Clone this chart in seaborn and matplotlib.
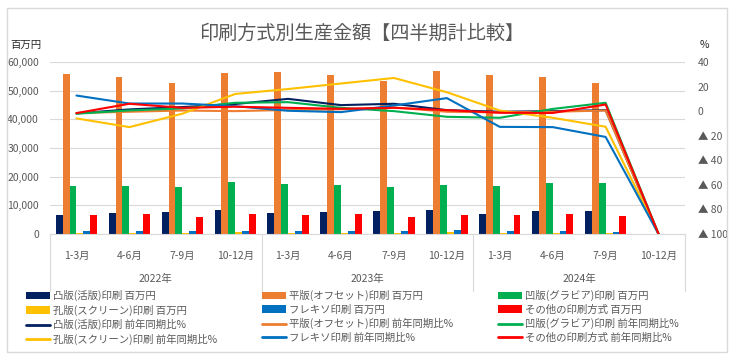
import numpy as np
import pandas as pd
import matplotlib
matplotlib.use("Agg")
import matplotlib.pyplot as plt
import matplotlib.transforms as mtransforms
from matplotlib.patches import Patch, Rectangle
from matplotlib.lines import Line2D
import seaborn as sns

years = ["2022年", "2023年", "2024年"]
quarters = ["1-3月", "4-6月", "7-9月", "10-12月"]

methods = ["凸版(活版)印刷", "平版(オフセット)印刷", "凹版(グラビア)印刷",
           "孔版(スクリーン)印刷", "フレキソ印刷", "その他の印刷方式"]
colors = ["#002060", "#ED7D31", "#00B050", "#FFC000", "#0070C0", "#FF0000"]

# 生産金額 (百万円)
letterpress = [6700, 7400, 7650, 8350, 7400, 7650, 8000, 8350, 7050, 8000, 8000, 0]
offset = [55700, 54800, 52800, 56000, 56400, 55300, 53400, 57000, 55300, 54600, 52600, 0]
gravure = [16850, 16850, 16500, 18100, 17400, 17100, 16500, 17100, 16600, 17800, 17800, 0]
screen = [500, 500, 450, 600, 500, 450, 450, 550, 450, 450, 400, 0]
flexo = [1050, 1050, 1000, 1100, 1000, 1050, 1000, 1400, 1050, 1050, 800, 0]
others = [6500, 6850, 5800, 6850, 6500, 6850, 5800, 6500, 6500, 6850, 6200, 0]

# 前年同期比 (%)
letterpress_pct = [-1.8, 1.4, 3.3, 5.8, 10.0, 4.9, 6.0, 0.8, -0.5, 0.0, 0.8, -100]
offset_pct = [-1.5, -0.5, 0.5, 0.0, 1.0, 1.5, 3.0, -0.5, -1.0, -0.5, 0.5, -100]
gravure_pct = [-2.1, 0.6, 2.2, 6.8, 7.3, 2.7, 0.0, -4.6, -5.4, 1.8, 6.8, -100]
screen_pct = [-5.9, -13.0, -2.1, 14.0, 18.0, 22.5, 27.0, 15.4, 0.5, -5.4, -12.7, -100]
flexo_pct = [12.7, 6.2, 6.2, 4.0, 0.3, -0.8, 4.6, 10.6, -12.8, -13.0, -21.0, -100]
others_pct = [-1.6, 6.0, 2.7, 3.6, 2.7, 1.9, 2.7, 0.8, -1.3, -1.5, 5.4, -100]

periods = [f"{y}{q}" for y in years for q in quarters]
n = len(periods)

bars = pd.DataFrame({
    "period": periods * len(methods),
    "method": np.repeat(methods, n),
    "value": letterpress + offset + gravure + screen + flexo + others,
})
lines = pd.DataFrame({
    "idx": list(range(n)) * len(methods),
    "method": np.repeat(methods, n),
    "pct": letterpress_pct + offset_pct + gravure_pct + screen_pct + flexo_pct + others_pct,
})

sns.set_style("white")
plt.rcParams["font.family"] = ["Noto Sans CJK JP", "DejaVu Sans"]
grey = "#595959"
light = "#D9D9D9"

fig = plt.figure(figsize=(7.33, 3.6), dpi=100)
ax = fig.add_axes([50 / 733, 1 - 234 / 360, 635 / 733, 172 / 360])

sns.barplot(data=bars, x="period", y="value", hue="method", order=periods,
            hue_order=methods, palette=colors, width=0.78, saturation=1,
            linewidth=0, ax=ax, legend=False)

ax2 = ax.twinx()
sns.lineplot(data=lines, x="idx", y="pct", hue="method", hue_order=methods,
             palette=colors, linewidth=1.5, ax=ax2, legend=False)

ax.set_xlim(-0.5, n - 0.5)
ax.set_ylim(0, 60000)
ax.set_yticks(range(0, 60001, 10000))
ax.set_yticklabels([f"{v:,}" for v in range(0, 60001, 10000)])
ax2.set_ylim(-100, 40)
ax2.set_yticks(range(-100, 41, 20))
ax2.set_yticklabels(["0" if v == 0 else (f"▲ {abs(v)}" if v < 0 else str(v))
                     for v in range(-100, 41, 20)])

ax.set_xticks(range(n))
ax.set_xticklabels(quarters * len(years))
for a in (ax, ax2):
    a.set_xlabel("")
    a.set_ylabel("")
    for s in a.spines.values():
        s.set_visible(False)
ax.spines["bottom"].set_visible(True)
ax.spines["bottom"].set_color(light)

ax.tick_params(axis="x", length=0, pad=12, labelsize=7.5, labelcolor=grey)
ax.tick_params(axis="y", length=0, pad=8, labelsize=7.5, labelcolor=grey)
ax2.tick_params(axis="y", length=0, pad=9, labelsize=7.5, labelcolor=grey)
ax.yaxis.grid(True, color=light, lw=0.8)
ax.set_axisbelow(True)

# multi-level category axis
trans = mtransforms.blended_transform_factory(ax.transData, ax.transAxes)
for xb in [-0.5, 3.5, 7.5, 11.5]:
    ax.plot([xb, xb], [0, -0.33], transform=trans, color=light, lw=0.8, clip_on=False)
for i, y in enumerate(years):
    ax.text(i * 4 + 1.5, -0.262, y, transform=trans, ha="center", va="center",
            fontsize=7.5, color=grey)

fig.text(0.493, 1 - 33 / 360, "印刷方式別生産金額【四半期計比較】", ha="center", va="center",
         fontsize=13.8, color=grey)
fig.text(10 / 733, 1 - 45 / 360, "百万円", ha="left", va="center", fontsize=7.5, color="#262626")
fig.text(700 / 733, 1 - 45 / 360, "%", ha="left", va="center", fontsize=7.5, color="#262626")

# legend: three columns
col_x = [26 / 733, 262 / 733, 498 / 733]
for c in range(3):
    idx = [c, c + 3]
    handles = [Patch(color=colors[i], lw=0) for i in idx] + \
              [Line2D([0], [0], color=colors[i], lw=2) for i in idx]
    labels = [methods[i] + " 百万円" for i in idx] + [methods[i] + " 前年同期比%" for i in idx]
    fig.legend(handles, labels, loc="upper left", bbox_to_anchor=(col_x[c], 1 - 290 / 360),
               frameon=False, fontsize=7.5, labelspacing=0.33, handlelength=2.3,
               handletextpad=0.3, borderaxespad=0, borderpad=0, labelcolor=grey)

fig.patches.append(Rectangle((7 / 733, 8 / 360), 720 / 733, 344 / 360, transform=fig.transFigure,
                             fill=False, ec=light, lw=1))

fig.savefig("out.png", dpi=100)
